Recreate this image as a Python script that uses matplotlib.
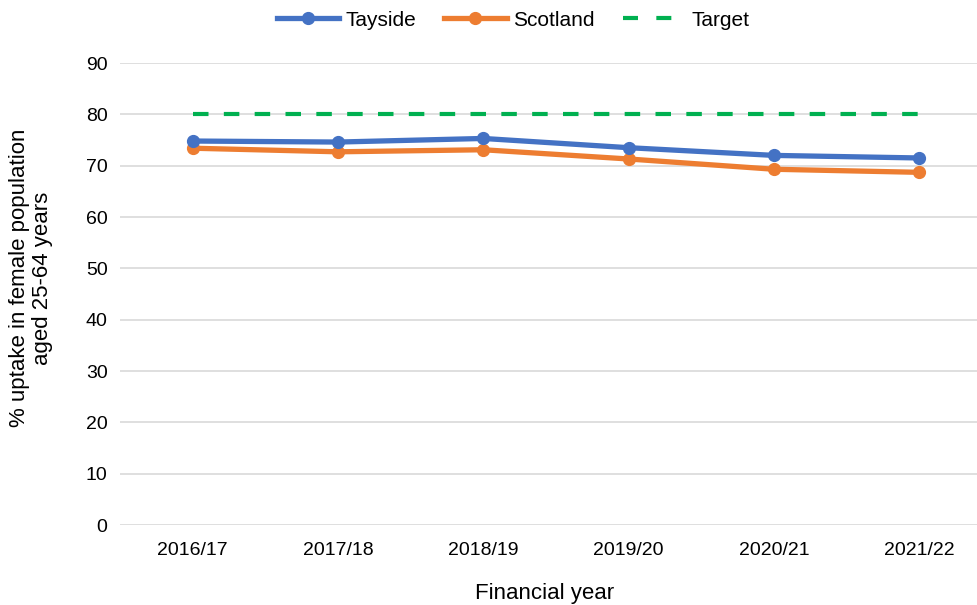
import matplotlib
matplotlib.use("Agg")
import matplotlib.pyplot as plt
from matplotlib.lines import Line2D

years = ["2016/17", "2017/18", "2018/19", "2019/20", "2020/21", "2021/22"]
tayside = [74.8, 74.6, 75.3, 73.5, 72.0, 71.5]
scotland = [73.4, 72.7, 73.1, 71.3, 69.3, 68.7]
target = [80, 80, 80, 80, 80, 80]
yticks = [0, 10, 20, 30, 40, 50, 60, 70, 80, 90]

plt.rcParams['font.family'] = ['Liberation Sans', 'DejaVu Sans']

fig = plt.figure(figsize=(9.77, 6.05), dpi=100)
ax = fig.add_axes([120/977, 80/605, 872/977, 462/605])

x = list(range(len(years)))
h1, = ax.plot(x, tayside, color="#4472C4", lw=3.8, marker="o", ms=8.5, label="Tayside", zorder=4)
h2, = ax.plot(x, scotland, color="#ED7D31", lw=3.8, marker="o", ms=8.5, label="Scotland", zorder=3)
ax.plot(x, target, color="#00B050", lw=3.0, ls=(0, (3.72, 3.68)), label="Target", zorder=2)
h3 = Line2D([], [], color="#00B050", lw=3.0, ls=(0, (3.6, 4.4)))

ax.set_xlim(-0.5, len(years) - 0.5)
ax.set_ylim(0, 90)
ax.set_yticks(yticks)
ax.set_xticks(x)
ax.set_xticklabels(years)
ax.tick_params(axis='both', length=0, labelsize=14, colors="#000000")
ax.tick_params(axis='y', pad=9)
ax.tick_params(axis='x', pad=12)
ax.grid(axis='y', color="#D9D9D9", lw=1.2)
ax.set_axisbelow(True)
for s in ax.spines.values():
    s.set_visible(False)

fig.text(31/977, 1 - 278/605, "% uptake in female population\naged 25-64 years", rotation=90,
         ha="center", va="center", fontsize=16, linespacing=1.1, multialignment="center")
fig.text(545/977, 1 - 594/605, "Financial year", ha="center", va="center", fontsize=16)

leg = fig.legend([h1, h2, h3], ["Tayside", "Scotland", "Target"], loc="center",
                 bbox_to_anchor=(513/977, 1 - 20/605), ncol=3, frameon=False,
                 fontsize=15, handlelength=3.0, columnspacing=1.35, handletextpad=0.3)

fig.savefig("out.png", dpi=100)
